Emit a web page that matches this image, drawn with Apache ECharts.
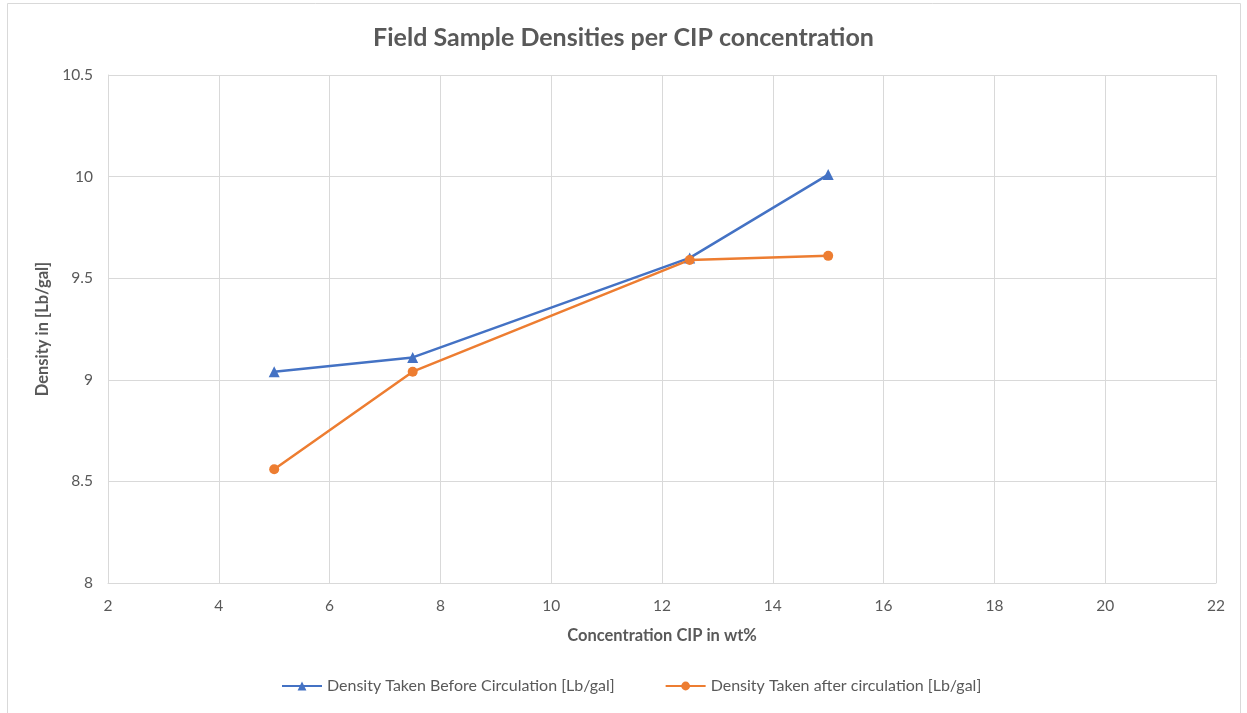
<!DOCTYPE html>
<html>
<head>
<meta charset="utf-8">
<script src="https://cdn.jsdelivr.net/npm/echarts@6/dist/echarts.min.js"></script>
<style>
  html, body { margin: 0; padding: 0; background: #fff; }
  #chart { width: 1247px; height: 713px; }
</style>
</head>
<body>
<div id="chart"></div>
<script>
// concentration CIP (wt%)
var concentrations = [5, 7.5, 12.5, 15];
// density readings [Lb/gal]
var beforeCirculation = [9.04, 9.11, 9.60, 10.01];
var afterCirculation = [8.56, 9.04, 9.59, 9.61];

var seriesNames = ['Density Taken Before Circulation [Lb/gal]', 'Density Taken after circulation [Lb/gal]'];

function pairs(xs, ys) {
  return xs.map(function (x, i) { return [x, ys[i]]; });
}

var txt = '#595959';
var fontFam = 'Lato, "Open Sans", sans-serif';

var chart = echarts.init(document.getElementById('chart'));
var option = {
  animation: false,
  color: ['#4472C4', '#ED7D31'],
  title: {
    text: 'Field Sample Densities per CIP concentration',
    left: 'center',
    top: 20,
    textStyle: { color: txt, fontSize: 25, fontWeight: 'bold', fontFamily: fontFam }
  },
  graphic: [{
    type: 'rect',
    shape: { x: 7.5, y: 3.5, width: 1233, height: 712 },
    style: { fill: 'none', stroke: '#d9d9d9', lineWidth: 1 },
    silent: true
  }],
  legend: {
    bottom: 14,
    left: 276,
    itemGap: 50,
    itemWidth: 40,
    itemHeight: 11,
    textStyle: { color: txt, fontSize: 16, fontFamily: fontFam },
    data: seriesNames
  },
  grid: { left: 108, right: 31, top: 75, bottom: 130 },
  xAxis: {
    type: 'value',
    min: 2, max: 22, interval: 2,
    name: 'Concentration CIP in wt%',
    nameLocation: 'middle',
    nameGap: 44,
    nameTextStyle: { color: txt, fontSize: 16.5, fontWeight: 'bold', fontFamily: fontFam },
    axisLine: { show: true, lineStyle: { color: '#d9d9d9' } },
    axisTick: { show: false },
    axisLabel: { color: txt, fontSize: 15.5, margin: 15, fontFamily: fontFam },
    splitLine: { show: true, lineStyle: { color: '#d9d9d9', width: 1 } }
  },
  yAxis: {
    type: 'value',
    min: 8, max: 10.5, interval: 0.5,
    name: 'Density in [Lb/gal]',
    nameLocation: 'middle',
    nameGap: 56,
    nameTextStyle: { color: txt, fontSize: 16.5, fontWeight: 'bold', fontFamily: fontFam },
    axisLine: { show: true, lineStyle: { color: '#d9d9d9' } },
    axisTick: { show: false },
    axisLabel: { color: txt, fontSize: 15.5, margin: 15, fontFamily: fontFam },
    splitLine: { show: true, lineStyle: { color: '#d9d9d9', width: 1 } }
  },
  series: [{
    name: seriesNames[0],
    type: 'line',
    data: pairs(concentrations, beforeCirculation),
    symbol: 'triangle',
    symbolSize: 11,
    lineStyle: { width: 2.5 }
  }, {
    name: seriesNames[1],
    type: 'line',
    data: pairs(concentrations, afterCirculation),
    symbol: 'circle',
    symbolSize: 10,
    lineStyle: { width: 2.5 }
  }]
};
chart.setOption(option);
</script>
</body>
</html>
